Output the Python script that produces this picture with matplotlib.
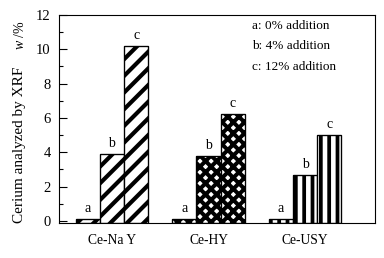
import matplotlib
matplotlib.use("Agg")
import matplotlib.pyplot as plt
import numpy as np

categories = ["Ce-Na Y", "Ce-HY", "Ce-USY"]
series_labels = ["a", "b", "c"]
vals_a = [0.1, 0.1, 0.1]
vals_b = [3.9, 3.8, 2.7]
vals_c = [10.2, 6.25, 5.02]
legend_texts = ["a: 0% addition", "b: 4% addition", "c: 12% addition"]
hatches = ["//", "xxx", "||"]
hatch_lw = [3.0, 2.9, 2.7]

plt.rcParams['font.family'] = ['Liberation Serif', 'DejaVu Serif']
plt.rcParams['mathtext.fontset'] = 'custom'
plt.rcParams['mathtext.rm'] = 'Liberation Serif'
plt.rcParams['mathtext.it'] = 'Liberation Serif:italic'

fig = plt.figure(figsize=(3.84, 2.58), dpi=100)
ax = fig.add_axes([0.1536, 0.1357, 0.8230, 0.8062])

ymin = -0.12
x = np.arange(len(categories))
w = 0.25
series = [vals_a, vals_b, vals_c]
for si, vals in enumerate(series):
    for gi, v in enumerate(vals):
        xpos = x[gi] + (si - 1) * w
        with plt.rc_context({'hatch.linewidth': hatch_lw[gi]}):
            bars = ax.bar(xpos, v - ymin, bottom=ymin, width=w, facecolor='white',
                          edgecolor='black', hatch=hatches[gi], linewidth=0.8)
        for b in bars:
            if hasattr(b, 'set_hatch_linewidth'):
                b.set_hatch_linewidth(hatch_lw[gi])
        ax.bar(xpos, v - ymin, bottom=ymin, width=w, facecolor='none',
               edgecolor='black', linewidth=0.9)
        ax.text(xpos, v + 0.22, series_labels[si], ha='center', va='bottom',
                fontsize=10)

ax.set_xlim(-0.549, 2.725)
ax.set_ylim(ymin, 12)
ax.set_xticks(x)
ax.set_xticklabels(categories, fontsize=9.8)
ax.set_yticks(np.arange(0, 13, 2))
ax.set_yticks(np.arange(1, 12, 2), minor=True)
ax.tick_params(axis='y', which='major', direction='in', length=5.8, width=0.8,
               labelsize=10.5, pad=6)
ax.tick_params(axis='y', which='minor', direction='in', length=3.2, width=0.8)
ax.tick_params(axis='x', length=0, pad=8)
for s in ax.spines.values():
    s.set_linewidth(0.8)

for i, t in enumerate(legend_texts):
    ax.text(0.611, 0.947 - i * 0.098, t, transform=ax.transAxes, ha='left',
            va='center', fontsize=9.5)

fig.text(20 / 384, 1 - 145 / 258, "Cerium analyzed by XRF", rotation=90,
         ha='center', va='center', fontsize=11)
fig.text(20 / 384, 1 - 35 / 258, r"$w$ /%", rotation=90, ha='center',
         va='center', fontsize=10)

fig.savefig("out.png", dpi=100)
